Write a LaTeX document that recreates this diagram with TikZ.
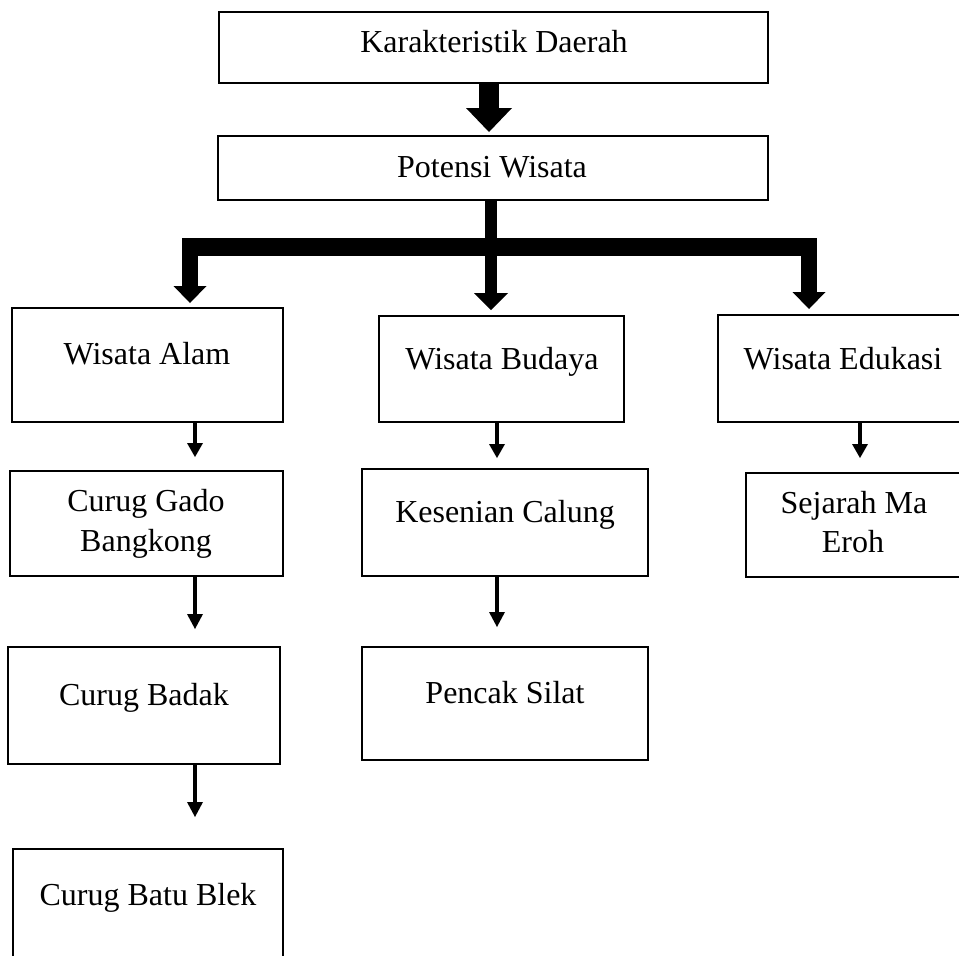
\documentclass[tikz,border=0pt]{standalone}
\usepackage{fontspec}
\setmainfont{Liberation Serif}
\usetikzlibrary{arrows.meta}
\begin{document}
\begin{tikzpicture}[x=0.5pt,y=-0.5pt,
  box/.style={draw, line width=0.8pt, inner sep=0pt, outer sep=0pt},
  txt/.style={anchor=base, inner sep=0pt, font=\fontsize{16}{20}\selectfont},
  thinarr/.style={line width=1.9pt, -{Triangle[width=8pt,length=7pt,line width=0pt]}},
  thinarrb/.style={line width=2.3pt, -{Triangle[width=8pt,length=7.5pt,line width=0pt]}},
  bigarr/.style={line width=10pt, -{Triangle[width=23pt,length=12pt,line width=0pt]}},
  droparr/.style={line width=8pt, -{Triangle[width=16.5pt,length=8.5pt,line width=0pt]}},
  dropmid/.style={line width=6pt, -{Triangle[width=17pt,length=8.5pt,line width=0pt]}}
]
\useasboundingbox (0,0) rectangle (959,955);
\clip (0,0) rectangle (959,955);

% boxes
\node[box, minimum width=274.5pt, minimum height=35.5pt] (kd) at (493.5,47.5) {};
\node[box, minimum width=275pt, minimum height=32pt] (pw) at (493,168) {};
\node[box, minimum width=135.5pt, minimum height=57pt] (alam) at (147.5,365) {};
\node[box, minimum width=122.5pt, minimum height=53pt] (budaya) at (501.5,369) {};
\node[box, minimum width=131pt, minimum height=53.5pt] (edu) at (849,368.5) {};
\node[box, minimum width=136.5pt, minimum height=52.5pt] (gado) at (146.5,523.5) {};
\node[box, minimum width=143pt, minimum height=53.5pt] (kes) at (505,522.5) {};
\node[box, minimum width=117pt, minimum height=52pt] (sej) at (863,525) {};
\node[box, minimum width=136pt, minimum height=58.5pt] (badak) at (144,705.5) {};
\node[box, minimum width=143pt, minimum height=56.5pt] (pencak) at (505,703.5) {};
\node[box, minimum width=135pt, minimum height=70.5pt] (batu) at (148,919.5) {};

% texts
\node[txt] (tkd) at (494,52) {Karakteristik Daerah};
\node[txt] (tpw) at (492,177) {Potensi Wisata};
\node[txt] (talam) at (147,364) {Wisata Alam};
\node[txt] (tbud) at (502,369) {Wisata Budaya};
\node[txt] (tedu) at (843,369) {Wisata Edukasi};
\node[txt] (tgado1) at (146,511) {Curug Gado};
\node[txt] (tgado2) at (146,551) {Bangkong};
\node[txt] (tkes) at (505,522) {Kesenian Calung};
\node[txt] (tsej1) at (854,513) {Sejarah Ma};
\node[txt] (tsej2) at (853,552) {Eroh};
\node[txt] (tbadak) at (144,705) {Curug Badak};
\node[txt] (tpencak) at (505,703) {Pencak Silat};
\node[txt] (tbatu) at (148,905) {Curug Batu Blek};

% thick connectors
\coordinate (topx) at (489,0);
\draw[bigarr, shorten >=2pt] (topx |- kd.south) -- (topx |- pw.north);

\coordinate (stem) at (491,247);
\coordinate (bl) at (182,247);
\coordinate (br) at (817,247);
\draw[line width=6pt] (stem |- pw.south) -- (stem);
\draw[line width=9pt] (bl) -- (br);

\coordinate (dl) at (190,238);
\coordinate (dr) at (809,238);
\draw[droparr, shorten >=2.5pt] (dl) -- (dl |- alam.north);
\draw[dropmid, shorten >=3pt] (stem) -- (stem |- budaya.north);
\draw[droparr, shorten >=3pt] (dr) -- (dr |- edu.north);

% thin connectors
\coordinate (colA) at (195,0);
\coordinate (colB) at (497,0);
\coordinate (colC) at (860,0);
\draw[thinarr, shorten >=7pt] (colA |- alam.south) -- (colA |- gado.north);
\draw[thinarr, shorten >=5.5pt] (colB |- budaya.south) -- (colB |- kes.north);
\draw[thinarr, shorten >=7.5pt] (colC |- edu.south) -- (colC |- sej.north);
\draw[thinarrb, shorten >=9pt] (colA |- gado.south) -- (colA |- badak.north);
\draw[thinarrb, shorten >=10pt] (colB |- kes.south) -- (colB |- pencak.north);
\draw[thinarrb, shorten >=16pt] (colA |- badak.south) -- (colA |- batu.north);
\end{tikzpicture}
\end{document}
